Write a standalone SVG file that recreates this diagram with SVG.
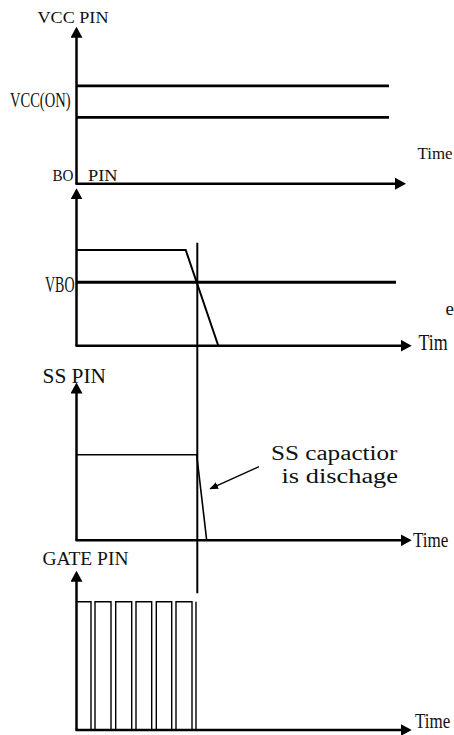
<svg xmlns="http://www.w3.org/2000/svg" width="454" height="735" viewBox="0 0 454 735">
<style>
text{font-family:"Liberation Serif","DejaVu Serif",serif;fill:#111}
.ax{stroke:#000;stroke-width:2.5;fill:none}
.thick{stroke:#000;stroke-width:2.7;fill:none}
.wave{stroke:#000;stroke-width:2;fill:none}
.thin{stroke:#000;stroke-width:1.4;fill:none}
</style>
<defs>
<marker id="ah" markerWidth="12" markerHeight="12" refX="8" refY="6" orient="auto" markerUnits="userSpaceOnUse"><path d="M0,0 L11,6 L0,12 z" fill="#000"/></marker>
<marker id="sah" markerWidth="10" markerHeight="8" refX="7" refY="3.5" orient="auto" markerUnits="userSpaceOnUse"><path d="M0,0 L9,3.5 L0,7 z" fill="#000"/></marker>
</defs>
<rect width="454" height="735" fill="#fff"/>
<g id="connectors">
<line class="ax" x1="76.5" y1="184" x2="76.5" y2="29.7" marker-end="url(#ah)"/>
<line class="ax" x1="75.5" y1="183.7" x2="403" y2="183.7" marker-end="url(#ah)"/>
<line class="ax" x1="76.5" y1="346" x2="76.5" y2="191.3" marker-end="url(#ah)"/>
<line class="ax" x1="75.5" y1="345.7" x2="408.7" y2="345.7" marker-end="url(#ah)"/>
<line class="ax" x1="76.5" y1="540.5" x2="76.5" y2="385.5" marker-end="url(#ah)"/>
<line class="ax" x1="75.5" y1="540.3" x2="408.7" y2="540.3" marker-end="url(#ah)"/>
<line class="ax" x1="76.5" y1="730.5" x2="76.5" y2="573.7" marker-end="url(#ah)"/>
<line class="ax" x1="75.5" y1="730" x2="408.7" y2="730" marker-end="url(#ah)"/>
<line class="wave" x1="197.3" y1="242.7" x2="197.3" y2="593.3"/>
<line class="thin" x1="259" y1="466.7" x2="211" y2="488.4" marker-end="url(#sah)"/>
</g>
<g id="vcc">
<text x="37.5" y="22.7" font-size="17" textLength="71" lengthAdjust="spacingAndGlyphs">VCC PIN</text>
<text x="10" y="106.7" font-size="22" textLength="60.5" lengthAdjust="spacingAndGlyphs">VCC(ON)</text>
<line class="thick" x1="76.5" y1="85.8" x2="389" y2="85.8"/>
<line class="thick" x1="76.5" y1="117.3" x2="389" y2="117.3"/>
<text x="417.5" y="159.3" font-size="17" textLength="35" lengthAdjust="spacingAndGlyphs">Time</text>
</g>
<g id="bo">
<text x="52.5" y="180.7" font-size="17" textLength="21" lengthAdjust="spacingAndGlyphs">BO</text>
<text x="88" y="180.7" font-size="17" textLength="29.5" lengthAdjust="spacingAndGlyphs">PIN</text>
<text x="45" y="291.5" font-size="23" textLength="29.5" lengthAdjust="spacingAndGlyphs">VBO</text>
<path class="wave" d="M76.5,250 H185.7 L218.3,345.7"/>
<line class="ax" x1="76.5" y1="282.3" x2="396" y2="282.3" style="stroke-width:3"/>
<text x="445.5" y="315" font-size="19">e</text>
<text transform="translate(418.5,350) scale(0.78,1)" font-size="23">Tim</text>
</g>
<g id="ss">
<text x="42.5" y="383.3" font-size="22" textLength="63.5" lengthAdjust="spacingAndGlyphs">SS PIN</text>
<path class="thin" d="M76.5,454.7 H196.7 L206.7,540.3" style="stroke-width:1.6"/>
<text x="271" y="460" font-size="20" textLength="126.5" lengthAdjust="spacingAndGlyphs">SS capactior</text>
<text x="281.5" y="483.3" font-size="20" textLength="116.5" lengthAdjust="spacingAndGlyphs">is dischage</text>
<text transform="translate(413,546.7) scale(0.776,1)" font-size="22">Time</text>
</g>
<g id="gate">
<text x="42.5" y="565" font-size="18.5" textLength="86" lengthAdjust="spacingAndGlyphs">GATE PIN</text>
<path class="thin" d="M76.5,601.7 H91 V730 H95 V601.7 H111 V730 H115.7 V601.7 H131.7 V730 H136 V601.7 H151.7 V730 H156.3 V601.7 H171.7 V730 H176 V601.7 H192 V730 M196,730 V601.7"/>
<text transform="translate(415,728.3) scale(0.85,1)" font-size="20">Time</text>
</g>
</svg>
